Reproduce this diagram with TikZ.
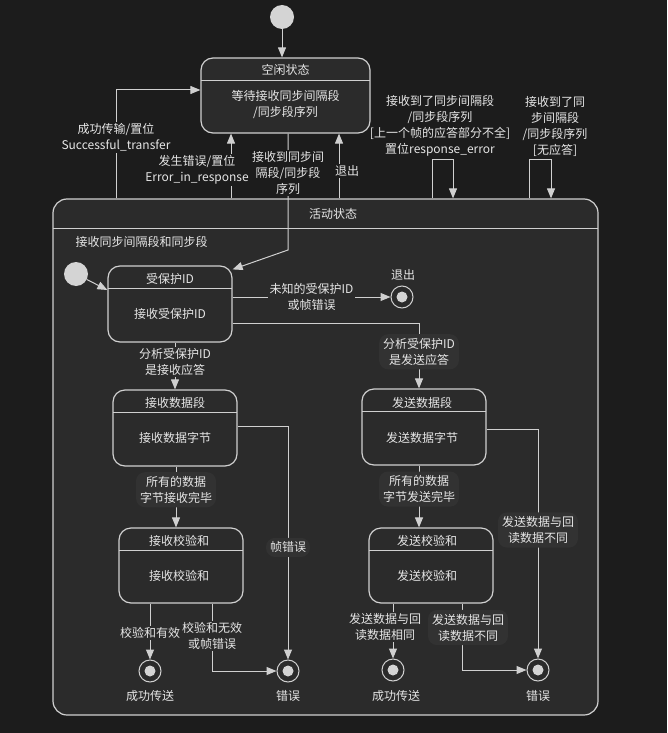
\documentclass[tikz,border=0pt]{standalone}
\usepackage{fontspec}
\setmainfont{Noto Sans CJK SC}
\usepackage{tikz}
\usetikzlibrary{arrows.meta}
\definecolor{bgc}{HTML}{1C1C1C}
\definecolor{compc}{HTML}{2B2B2B}
\definecolor{blobc}{HTML}{323232}
\definecolor{linec}{HTML}{D0D0D0}
\definecolor{txtc}{HTML}{E6E6E6}
\definecolor{dotc}{HTML}{D4D4D4}

\begin{document}
\begin{tikzpicture}[
        x=1pt, y=-1pt,
        font=\fontsize{12}{16}\selectfont,
        every node/.append style={text=txtc},
        comp/.style  = {draw=linec, fill=compc, line width=1.2pt, rounded corners=14pt,
                        minimum width=545pt, minimum height=516pt, inner sep=0pt,
                        path picture={\draw[linec, line width=1pt]
                            ([yshift=-29pt]path picture bounding box.north west) --
                            ([yshift=-29pt]path picture bounding box.north east);}},
        state/.style = {draw=linec, fill=compc, line width=1.2pt, rounded corners=12pt,
                        minimum width=124pt, minimum height=76pt, inner sep=0pt,
                        path picture={\draw[linec, line width=0.9pt]
                            ([yshift=-22pt]path picture bounding box.north west) --
                            ([yshift=-22pt]path picture bounding box.north east);}},
        start/.style = {circle, fill=dotc, minimum size=24pt, inner sep=0pt},
        final/.style = {circle, draw=linec, fill=compc, line width=1pt, minimum size=22pt, inner sep=0pt,
                        path picture={\fill[dotc] (path picture bounding box.center) circle (5.5pt);}},
        arr/.style   = {draw=linec, line width=1pt, -{Triangle[length=10pt, width=8pt]}},
        lbl/.style   = {fill=compc, align=center, inner sep=1.5pt},
        blob/.style  = {lbl, fill=blobc, rounded corners=9pt, inner sep=4pt}
    ]
    \fill[bgc] (0,0) rectangle (667,733);
    \useasboundingbox (0,0) rectangle (667,733);

    % outer level
    \node[start] (init0) at (282,17) {};
    \node[state, minimum width=169pt, minimum height=75pt] (idle) at (285.5,95.5) {};
    \node (idle-t) at (285.5,70) {空闲状态};
    \node[align=center] (idle-b) at (285.5,104) {等待接收同步间隔段\\/同步段序列};

    \node[comp] (act) at (325.5,457) {};
    \node (act-t) at (333,214) {活动状态};
    \node[anchor=west] (act-s) at (72,242) {接收同步间隔段和同步段};

    \draw[arr] (init0) -- (init0 |- idle.north);
    \draw[arr] (act.north -| 116,0) |- node[lbl, fill=bgc, pos=0.28] (l-succ) {成功传输/置位\\Successful\_transfer} ([yshift=5.5pt]idle.west);
    \draw[arr] (act.north -| 231,0) -- node[lbl, fill=bgc, pos=0.44, xshift=-34pt] (l-err) {发生错误/置位\\Error\_in\_response} (idle.south -| 231,0);
    \draw[arr] (act.north -| 339,0) -- node[lbl, fill=bgc, pos=0.42, xshift=8pt] (l-exit) {退出} (idle.south -| 339,0);

    \node[align=center, inner sep=1pt] (l-loop1) at (440,126) {接收到了同步间隔段\\/同步段序列\\{[上一个帧的应答部分不全]}\\置位response\_error};
    \node[align=center, inner sep=1pt] (l-loop2) at (555,126) {接收到了同\\步间隔段\\/同步段序列\\{[无应答]}};
    \draw[arr] (act.north -| 432,0) |- (453,159) -- (act.north -| 453,0);
    \draw[arr] (act.north -| 529,0) |- (551,159) -- (act.north -| 551,0);

    % inner level
    \node[start] (init1) at (76,274) {};
    \node[state] (pid) at (170,304) {};
    \node (pid-t) at (170,279) {受保护ID};
    \node (pid-b) at (170,314) {接收受保护ID};
    \node[final] (exit) at (402,297) {};
    \node (exit-t) at (403,275) {退出};

    \node[state] (rxd) at (175,428) {};
    \node (rxd-t) at (175,403) {接收数据段};
    \node (rxd-b) at (175,438) {接收数据字节};
    \node[state] (txd) at (424,427) {};
    \node (txd-t) at (422,403) {发送数据段};
    \node (txd-b) at (422,438) {发送数据字节};

    \node[state, minimum height=75pt] (rxc) at (181,565.5) {};
    \node (rxc-t) at (179,541) {接收校验和};
    \node (rxc-b) at (179,576) {接收校验和};
    \node[state, minimum height=75pt] (txc) at (431,565.5) {};
    \node (txc-t) at (427,541) {发送校验和};
    \node (txc-b) at (427,576) {发送校验和};

    \node[final] (okL)  at (150,671) {};
    \node[final] (errL) at (288,671) {};
    \node[final] (okR)  at (393,670) {};
    \node[final] (errR) at (538,670) {};
    \node (okL-t)  at (150,696) {成功传送};
    \node (errL-t) at (288,696) {错误};
    \node (okR-t)  at (396,696) {成功传送};
    \node (errR-t) at (538,696) {错误};

    \draw[arr] (idle.south -| 288,0) -- node[lbl, fill=bgc, pos=0.34] (l-sync) {接收到同步间\\隔段/同步段\\序列} (288,250) -- ([yshift=-4pt]pid.north east);
    \draw[arr] (init1) -- ([yshift=14pt]pid.west);
    \draw[arr] (exit -| pid.east) -- node[lbl] (l-unk) {未知的受保护ID\\或帧错误} (exit);
    \draw[arr] ([yshift=-19pt]pid.east) -| node[blob, pos=0.72] (l-tx) {分析受保护ID\\是发送应答} ([xshift=-5pt]txd.north);
    \draw[arr] (pid.south -| rxd.north) -- node[lbl, pos=0.42] (l-rx) {分析受保护ID\\是接收应答} (rxd.north);

    \draw[arr] ([yshift=2pt]rxd.east) -| node[blob, pos=0.76] (l-frame) {帧错误} (errL);
    \draw[arr] (rxd.south -| 176,0) -- node[blob, pos=0.38] (l-rxall) {所有的数据\\字节接收完毕} (rxc.north -| 176,0);
    \draw[arr] (rxc.south -| okL) -- node[lbl, pos=0.52] (l-ok) {校验和有效} (okL);
    \draw[arr] (rxc.south -| 212,0) |- node[lbl, pos=0.24] (l-bad) {校验和无效\\或帧错误} (errL);

    \draw[arr] ([yshift=-2pt]txd.east) -| node[blob, pos=0.72] (l-txbad) {发送数据与回\\读数据不同} (errR);
    \draw[arr] (txd.south -| 419,0) -- node[blob, pos=0.38] (l-txall) {所有的数据\\字节发送完毕} (txc.north -| 419,0);
    \draw[arr] (txc.south -| okR) -- node[lbl, pos=0.43, xshift=-8pt] (l-txok) {发送数据与回\\读数据相同} (okR);
    \draw[arr] (txc.south -| 462,0) |- node[blob, pos=0.18, xshift=6pt] (l-txbad2) {发送数据与回\\读数据不同} (errR);
\end{tikzpicture}
\end{document}
